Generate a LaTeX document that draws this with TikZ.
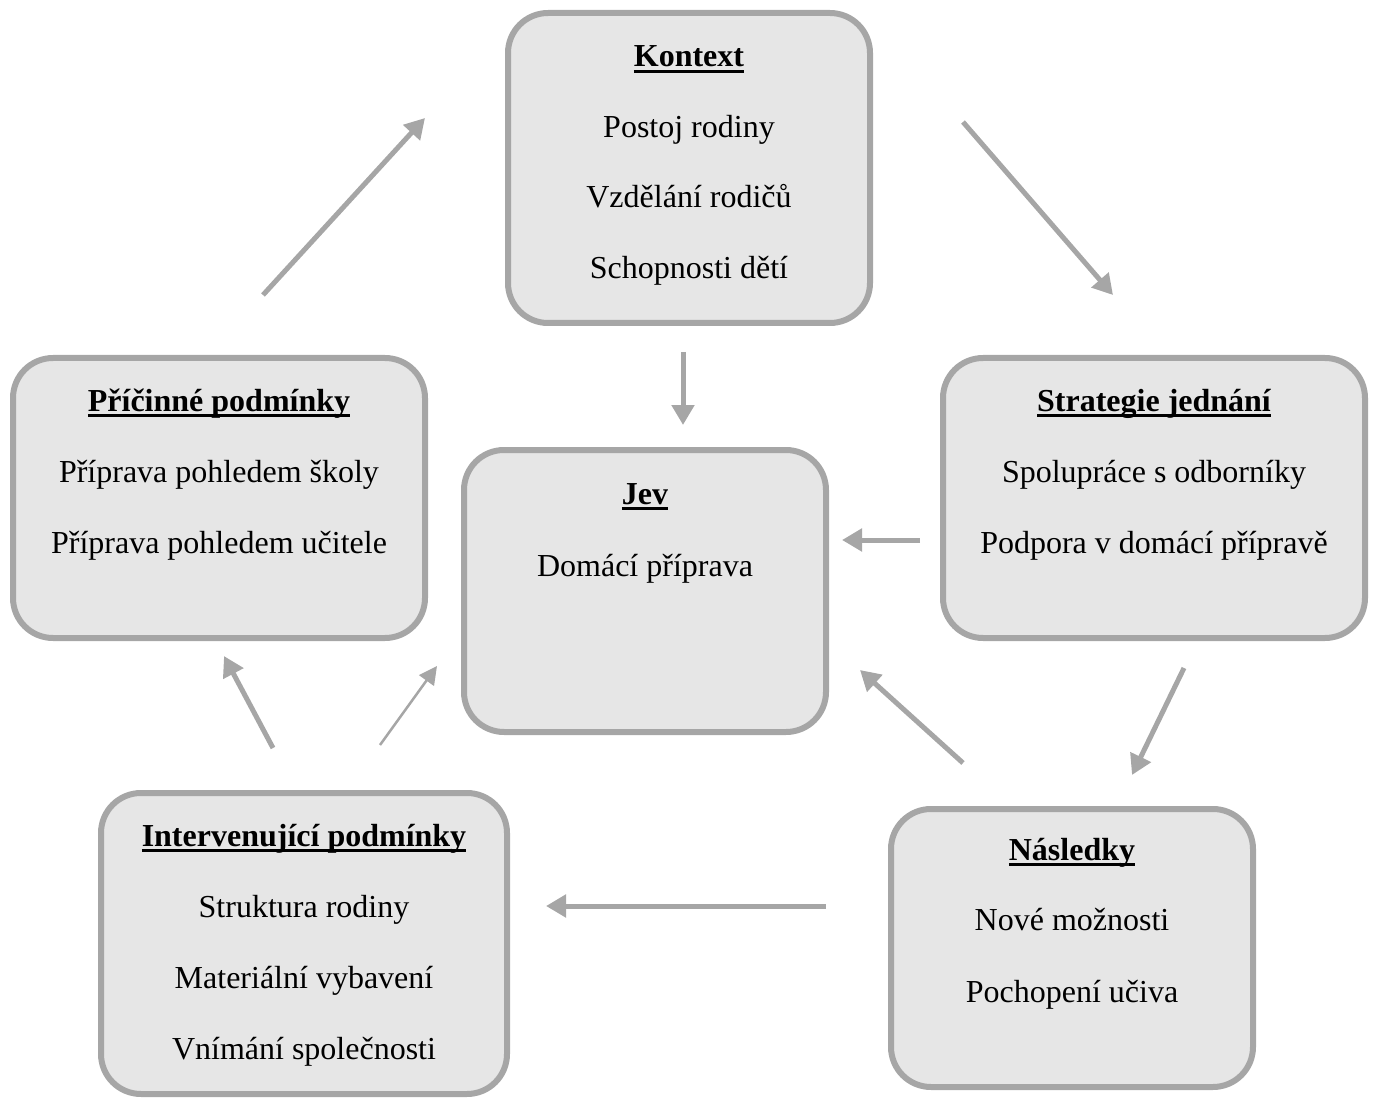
\documentclass[tikz,border=0pt]{standalone}
\usepackage{fontspec}
\setmainfont{Liberation Serif}
\usetikzlibrary{arrows.meta}
\definecolor{boxfill}{HTML}{E6E6E6}
\definecolor{boxline}{HTML}{A6A6A6}
\definecolor{arrowgray}{HTML}{A6A6A6}
\newcommand{\ulbold}[1]{\setbox0=\hbox{\bfseries #1}\rlap{\rule[-6pt]{\wd0}{3pt}}\box0}
\tikzset{
  box/.style={draw=boxline, fill=boxfill, line width=6pt, rounded corners=40pt},
  txt/.style={anchor=base, inner sep=0pt, font=\fontsize{32}{38}\selectfont},
  flow/.style={draw=arrowgray, line width=5pt, -{Triangle[length=20pt,width=22pt]}},
  thinflow/.style={draw=arrowgray, line width=2.5pt, -{Triangle[length=18pt,width=18pt]}}
}
\begin{document}
\begin{tikzpicture}[x=1pt,y=-1pt]
\useasboundingbox (0,0) rectangle (1374,1099);
% boxes
\draw[box] (508,13) rectangle (870,323);
\node[inner sep=0pt] (kontext) at (689,168) {};
\draw[box] (13,358) rectangle (425,638);
\node[inner sep=0pt] (pricinne) at (219,498) {};
\draw[box] (943,358) rectangle (1365,638);
\node[inner sep=0pt] (strategie) at (1154,498) {};
\draw[box] (464,450) rectangle (826,732);
\node[inner sep=0pt] (jev) at (645,591) {};
\draw[box] (101,793) rectangle (507,1094);
\node[inner sep=0pt] (interv) at (304,943) {};
\draw[box] (891,809) rectangle (1253,1087);
\node[inner sep=0pt] (nasledky) at (1072,948) {};
% texts
\node[txt] (k0) at (689,67) {\ulbold{Kontext}};
\node[txt] (k1) at (689,138) {Postoj rodiny};
\node[txt] (k2) at (689,208) {Vzdělání rodičů};
\node[txt] (k3) at (689,279) {Schopnosti dětí};
\node[txt] (p0) at (219,411) {\ulbold{Příčinné podmínky}};
\node[txt] (p1) at (219,482) {Příprava pohledem školy};
\node[txt] (p2) at (219,553) {Příprava pohledem učitele};
\node[txt] (s0) at (1154,411) {\ulbold{Strategie jednání}};
\node[txt] (s1) at (1154,482) {Spolupráce s odborníky};
\node[txt] (s2) at (1154,553) {Podpora v domácí přípravě};
\node[txt] (j0) at (645,504) {\ulbold{Jev}};
\node[txt] (j1) at (645,576) {Domácí příprava};
\node[txt] (i0) at (304,846) {\ulbold{Intervenující podmínky}};
\node[txt] (i1) at (304,917) {Struktura rodiny};
\node[txt] (i2) at (304,988) {Materiální vybavení};
\node[txt] (i3) at (304,1059) {Vnímání společnosti};
\node[txt] (n0) at (1072,860) {\ulbold{Následky}};
\node[txt] (n1) at (1072,930) {Nové možnosti};
\node[txt] (n2) at (1072,1002) {Pochopení učiva};
% arrow end points
\coordinate (a1s) at (263,295); \coordinate (a1e) at (425,118);
\coordinate (a2s) at (963,122); \coordinate (a2e) at (1113,295);
\coordinate (a3s) at (683,352); \coordinate (a3e) at (683,425);
\coordinate (a4s) at (920,540); \coordinate (a4e) at (842,540);
\coordinate (a5s) at (1184,668); \coordinate (a5e) at (1132,775);
\coordinate (a6s) at (963,763); \coordinate (a6e) at (860,670);
\coordinate (a7s) at (826,906); \coordinate (a7e) at (546,906);
\coordinate (a8s) at (273,748); \coordinate (a8e) at (224,656);
\coordinate (a9s) at (380,745); \coordinate (a9e) at (437,666);
\draw[flow] (a1s) -- (a1e);
\draw[flow] (a2s) -- (a2e);
\draw[flow] (a3s) -- (a3e);
\draw[flow] (a4s) -- (a4e);
\draw[flow] (a5s) -- (a5e);
\draw[flow] (a6s) -- (a6e);
\draw[flow] (a7s) -- (a7e);
\draw[flow] (a8s) -- (a8e);
\draw[thinflow] (a9s) -- (a9e);
\end{tikzpicture}
\end{document}
